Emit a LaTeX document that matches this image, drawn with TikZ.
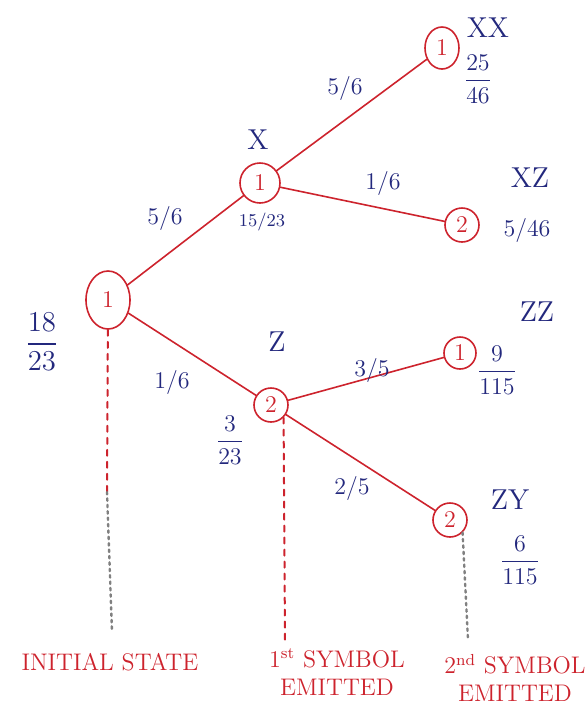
\documentclass[tikz,border=0pt]{standalone}
\usepackage{amsmath}
\usetikzlibrary{shapes.geometric}
\definecolor{inkred}{RGB}{205,35,45}
\definecolor{inkblue}{RGB}{35,40,125}

\begin{document}
\begin{tikzpicture}[x=0.5pt, y=-0.5pt, line join=round, line cap=round,
    state/.style={circle, draw=inkred, text=inkred, line width=0.8pt,
      minimum size=17pt, inner sep=0pt, font=\large},
    prob/.style={text=inkblue, font=\large},
    emit/.style={text=inkblue, font=\Large},
    trans/.style={draw=inkred, line width=0.8pt},
    stage/.style={text=inkred, font=\large, align=center}]
  \useasboundingbox (0,0) rectangle (588,709);

  % states of the tree
  \node[state, ellipse, minimum width=22pt, minimum height=29pt] (S0) at (108,300) {1};
  \node[state, minimum size=20pt] (X) at (260,183) {1};
  \node[state] (Z) at (271,405) {2};
  \node[state, ellipse, minimum width=17pt, minimum height=21pt] (XX) at (442,48) {1};
  \node[state] (XZ) at (462,225) {2};
  \node[state, minimum size=16pt] (ZZ) at (460,353) {1};
  \node[state] (ZY) at (450,520) {2};

  % transitions
  \draw[trans] (S0) -- (X);
  \draw[trans] (S0) -- (Z);
  \draw[trans] (X) -- (XX);
  \draw[trans] (X) -- (XZ);
  \draw[trans] (Z) -- (ZZ);
  \draw[trans] (Z) -- (ZY);

  % transition probabilities
  \node[prob] (pSX) at (165,218) {$5/6$};
  \node[prob] (pSZ) at (172,382) {$1/6$};
  \node[prob] (pXX) at (345,88) {$5/6$};
  \node[prob] (pXZ) at (383,183) {$1/6$};
  \node[prob] (pZZ) at (372,370) {$3/5$};
  \node[prob] (pZY) at (352,488) {$2/5$};

  % emitted symbols and path probabilities
  \node[prob, font=\Large] (P0) at (42,342) {$\dfrac{18}{23}$};
  \node[emit] (eX) at (258,140) {X};
  \node[prob, font=\small] (PX) at (262,222) {$15/23$};
  \node[emit] (eXX) at (488,28) {XX};
  \node[prob] (PXX) at (478,79) {$\dfrac{25}{46}$};
  \node[emit] (eXZ) at (530,178) {XZ};
  \node[prob] (PXZ) at (527,230) {$5/46$};
  \node[emit] (eZ) at (277,342) {Z};
  \node[prob] (PZ) at (230,440) {$\dfrac{3}{23}$};
  \node[emit] (eZZ) at (537,312) {ZZ};
  \node[prob] (PZZ) at (497,370) {$\dfrac{9}{115}$};
  \node[emit] (eZY) at (510,500) {ZY};
  \node[prob] (PZY) at (520,560) {$\dfrac{6}{115}$};

  % time steps
  \coordinate (T0) at (107,492);
  \coordinate (T0end) at (112,632);
  \coordinate (T1end) at (285,640);
  \coordinate (T2end) at (468,640);
  \draw[inkred, dashed, line width=1pt] (S0) -- (T0);
  \draw[gray, dotted, line width=1.2pt] (T0) -- (T0end);
  \draw[inkred, dashed, line width=1pt] (Z.south east) -- (T1end);
  \draw[gray, dotted, line width=1.2pt] (ZY.south east) -- (T2end);

  \node[stage] (L0) at (110,662) {INITIAL STATE};
  \node[stage] (L1) at (337,672) {1\textsuperscript{st} SYMBOL\\EMITTED};
  \node[stage] (L2) at (515,678) {2\textsuperscript{nd} SYMBOL\\EMITTED};
\end{tikzpicture}
\end{document}
